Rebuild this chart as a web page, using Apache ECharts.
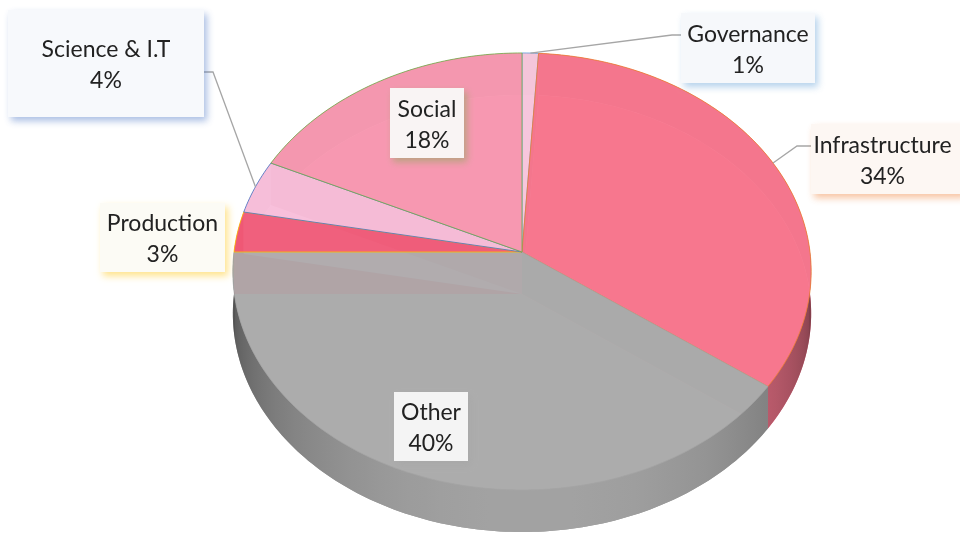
<!DOCTYPE html>
<html>
<head>
<meta charset="utf-8">
<script src="https://cdn.jsdelivr.net/npm/echarts@6/dist/echarts.min.js"></script>
<style>
  html, body { margin: 0; padding: 0; background: #ffffff; }
  #chart { width: 960px; height: 535px; }
</style>
</head>
<body>
<div id="chart"></div>
<script>
// Budget share by sector
const categories = ['Governance', 'Infrastructure', 'Other', 'Production', 'Science & I.T', 'Social'];
const shares = [1, 34, 40, 3, 4, 18];

// Styling
const sliceColors = ['#F4C5DB', '#F4778D', '#ABABAB', '#EF5876', '#F6BEDA', '#F597AF'];
const edgeColors = ['#5B9BD5', '#ED7D31', '#A5A5A5', '#FFC000', '#4472C4', '#70AD47'];
const labelFills = ['#F6F8FB', '#FDF7F3', '#F4F4F4', '#FCFBF5', '#F7F9FC', '#F9F4F4'];
// label boxes: x, y, width, height
const labelBoxes = [
  [681, 13, 134, 70],
  [811, 124, 152, 70],
  [394, 392, 74, 69],
  [100, 203, 125, 69],
  [8, 10, 196, 107],
  [390, 88, 74, 70]
];
// leader line elbows (label side), null when the label sits next to its slice
const leaderPaths = [
  [[672, 35], [681, 35]],
  [[797, 146], [811, 146]],
  null,
  null,
  [[213, 72], [204, 72]],
  null
];

// 3D disc geometry
const CX = 522, CY = 252, RX = 288, RY = 216.8, PERSP = 0.0892, DEPTH = 42;
const TOP_ALPHA = 0.9;
const DEG = Math.PI / 180;

function project(theta, r, h) {
  const s = Math.sin(theta), c = Math.cos(theta);
  const w = 1 + PERSP * r * c;
  return [CX + RX * r * s / w, CY - RY * r * c / w + h * DEPTH];
}

function shade(hex, f, a) {
  const n = parseInt(hex.slice(1), 16);
  const r = Math.min(255, Math.round(((n >> 16) & 255) * f));
  const g = Math.min(255, Math.round(((n >> 8) & 255) * f));
  const b = Math.min(255, Math.round((n & 255) * f));
  return 'rgba(' + r + ',' + g + ',' + b + ',' + (a == null ? 1 : a) + ')';
}

function arcPoints(a0, a1, h) {
  const pts = [];
  const steps = Math.max(2, Math.ceil((a1 - a0) / DEG));
  for (let k = 0; k <= steps; k++) {
    pts.push(project(a0 + (a1 - a0) * k / steps, 1, h));
  }
  return pts;
}

// light falloff on the visible rim: brightest facing the viewer, darker toward the sides
function rimLight(theta) {
  return Math.max(0.42, 0.45 + 0.5 * Math.cos(theta - 178 * DEG));
}

function rimWall(a0, a1) {
  return arcPoints(a0, a1, 0).concat(arcPoints(a0, a1, 1).reverse());
}

const total = shares.reduce((s, v) => s + v, 0);
const startOf = shares.map((v, i) => shares.slice(0, i).reduce((s, x) => s + x, 0));

function renderSlice(params, api) {
  const i = params.dataIndex;
  const value = api.value(0);
  const a0 = startOf[i] / total * Math.PI * 2;
  const a1 = (startOf[i] + value) / total * Math.PI * 2;
  const base = sliceColors[i];
  const children = [];

  // bottom face
  children.push({
    type: 'polygon', z2: 0,
    shape: { points: [project(0, 0, 1)].concat(arcPoints(a0, a1, 1)) },
    style: { fill: shade(base, 0.9) }
  });

  // radial cut walls
  [a0, a1].forEach(a => {
    children.push({
      type: 'polygon', z2: 20,
      shape: { points: [project(a, 0, 0), project(a, 1, 0), project(a, 1, 1), project(a, 0, 1)] },
      style: { fill: shade(base, 0.8) }
    });
  });

  // outer rim: back part (seen only through the top) and front part with a shading gradient
  const ranges = [];
  const cuts = [0, 90 * DEG, 270 * DEG, 360 * DEG];
  for (let c = 0; c < cuts.length - 1; c++) {
    const lo = Math.max(a0, cuts[c]), hi = Math.min(a1, cuts[c + 1]);
    if (hi > lo) ranges.push([lo, hi, c === 1]);
  }
  ranges.forEach(([lo, hi, front]) => {
    let fill;
    if (front) {
      const stops = [];
      const n = Math.max(2, Math.ceil((hi - lo) / (3 * DEG)));
      const xs = [];
      for (let k = 0; k <= n; k++) {
        const t = lo + (hi - lo) * k / n;
        xs.push([project(t, 1, 0)[0], rimLight(t)]);
      }
      const xmin = Math.min.apply(null, xs.map(p => p[0]));
      const xmax = Math.max.apply(null, xs.map(p => p[0]));
      xs.sort((p, q) => p[0] - q[0]).forEach(p => {
        stops.push({ offset: (p[0] - xmin) / Math.max(1, xmax - xmin), color: shade(base, p[1]) });
      });
      fill = { type: 'linear', x: xmin, y: 0, x2: xmax, y2: 0, global: true, colorStops: stops };
    } else {
      fill = shade(base, 0.8);
    }
    children.push({
      type: 'polygon', z2: front ? 30 : 10,
      shape: { points: rimWall(lo, hi) },
      style: { fill: fill }
    });
  });

  // top face
  children.push({
    type: 'polygon', z2: 40,
    shape: { points: [project(0, 0, 0)].concat(arcPoints(a0, a1, 0)) },
    style: { fill: shade(base, 1.02, TOP_ALPHA), stroke: edgeColors[i], lineWidth: 0.8 }
  });

  // leader line
  const path = leaderPaths[i];
  if (path) {
    const anchor = project((a0 + a1) / 2, 1, 0);
    children.push({
      type: 'polyline', z2: 50,
      shape: { points: [anchor].concat(path) },
      style: { stroke: '#A6A6A6', lineWidth: 1.3, fill: null }
    });
  }

  // label box with two-line text
  const box = labelBoxes[i];
  const pct = Math.round(value / total * 100) + '%';
  children.push({
    type: 'rect', z2: 60,
    shape: { x: box[0], y: box[1], width: box[2], height: box[3] },
    style: {
      fill: labelFills[i],
      shadowBlur: 7, shadowOffsetX: 3, shadowOffsetY: 4,
      shadowColor: shade(edgeColors[i], 1, 0.45)
    }
  });
  children.push({
    type: 'text', z2: 61,
    style: {
      text: categories[i] + '\n' + pct,
      x: box[0] + Math.min(box[2], 960 - box[0]) / 2 + (i === 1 ? -3 : 0),
      y: box[1] + box[3] / 2 + 2,
      align: 'center', verticalAlign: 'middle',
      fontFamily: 'Lato', fontSize: 23, lineHeight: 31,
      fill: '#222222'
    }
  });

  return { type: 'group', children: children };
}

const chart = echarts.init(document.getElementById('chart'), null, { renderer: 'canvas' });
chart.setOption({
  animation: false,
  backgroundColor: '#ffffff',
  series: [{
    type: 'custom',
    coordinateSystem: 'none',
    silent: true,
    renderItem: renderSlice,
    data: shares.map((v, i) => ({ name: categories[i], value: [v] }))
  }]
});
</script>
</body>
</html>
